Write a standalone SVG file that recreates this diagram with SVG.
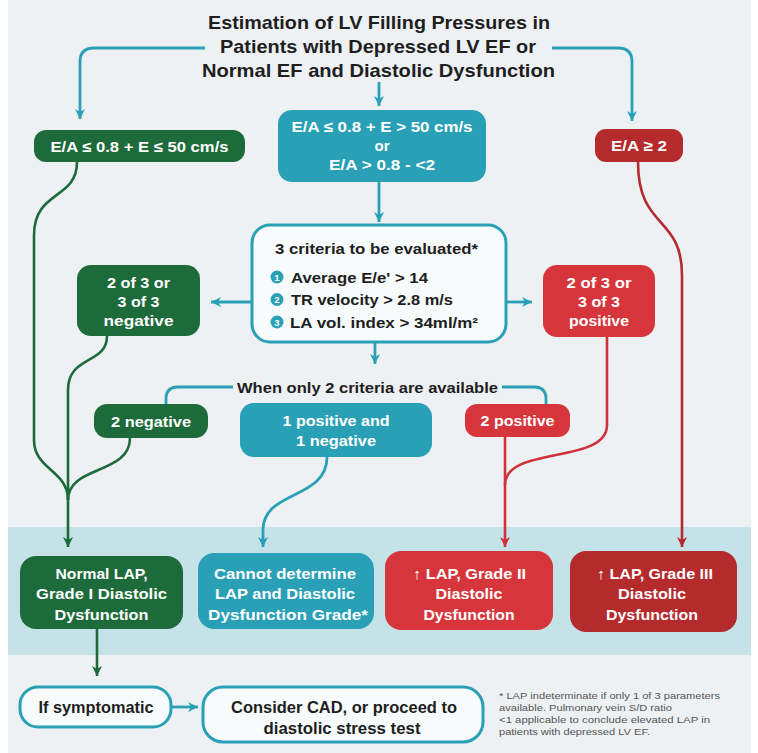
<svg xmlns="http://www.w3.org/2000/svg" width="758" height="753" viewBox="0 0 758 753">
<style>
text{font-family:"Liberation Sans",Arial,sans-serif;font-weight:bold}
.ttl{font-size:19px;fill:#1e1e1e;text-anchor:middle}
.w{fill:#fff;font-size:15px;text-anchor:middle}
.d{fill:#1e1e1e;font-size:15px}
.big{fill:#1e1e1e;font-size:17px;text-anchor:middle}
.fn{font-weight:normal;font-size:9.5px;fill:#555}
.g{fill:#1d6a3a}.t{fill:#2aa0b6}.r{fill:#d6363b}.dr{fill:#b42a2d}
.cg{fill:none;stroke:#1d6a3a;stroke-width:2.6}
.ct{fill:none;stroke:#2aa0b6;stroke-width:2.8}
.cr{fill:none;stroke:#cf323a;stroke-width:2.6}
.cdr{fill:none;stroke:#b42a2d;stroke-width:2.6}
.ob{fill:#f8fbfc;stroke:#2aa0b6;stroke-width:3}
</style>
<defs>
<marker id="ag" viewBox="0 0 12 12" refX="11" refY="6" markerWidth="12" markerHeight="12" markerUnits="userSpaceOnUse" orient="auto"><path d="M1,1 L11,6 L1,11 L4,6 Z" fill="#1d6a3a"/></marker>
<marker id="at" viewBox="0 0 12 12" refX="11" refY="6" markerWidth="12" markerHeight="12" markerUnits="userSpaceOnUse" orient="auto"><path d="M1,1 L11,6 L1,11 L4,6 Z" fill="#2aa0b6"/></marker>
<marker id="ar" viewBox="0 0 12 12" refX="11" refY="6" markerWidth="12" markerHeight="12" markerUnits="userSpaceOnUse" orient="auto"><path d="M1,1 L11,6 L1,11 L4,6 Z" fill="#cf323a"/></marker>
<marker id="adr" viewBox="0 0 12 12" refX="11" refY="6" markerWidth="12" markerHeight="12" markerUnits="userSpaceOnUse" orient="auto"><path d="M1,1 L11,6 L1,11 L4,6 Z" fill="#b42a2d"/></marker>
</defs>
<rect x="0" y="0" width="758" height="753" fill="#ffffff"/>
<rect x="8" y="0" width="743" height="753" fill="#edf1f4"/>
<rect x="8" y="527" width="743" height="128" fill="#c4e2e8"/>

<g id="title">
<text class="ttl" x="379" y="28.5" textLength="342" lengthAdjust="spacingAndGlyphs">Estimation of LV Filling Pressures in</text>
<text class="ttl" x="378" y="53" textLength="316" lengthAdjust="spacingAndGlyphs">Patients with Depressed LV EF or</text>
<text class="ttl" x="378.5" y="76.5" textLength="353" lengthAdjust="spacingAndGlyphs">Normal EF and Diastolic Dysfunction</text>
</g>

<g id="connectors">
<path class="ct" d="M205,48 L94,48 Q80,48 80,62 L80,119" marker-end="url(#at)"/>
<path class="ct" d="M552,48 L618,48 Q632,48 632,62 L632,121" marker-end="url(#at)"/>
<path class="ct" d="M379,82 L379,106" marker-end="url(#at)"/>
<path class="ct" d="M379,182 L379,222" marker-end="url(#at)"/>
<path class="ct" d="M252,302 L211,302" marker-end="url(#at)"/>
<path class="ct" d="M507,302 L532,302" marker-end="url(#at)"/>
<path class="ct" d="M375,342 L375,364" marker-end="url(#at)"/>
<path class="ct" d="M233,387 L178,387 Q166,387 166,399 L166,404"/>
<path class="ct" d="M502,387 L534,387 Q546,387 546,399 L546,404"/>
<path class="cg" d="M77,162 C77,200 34,190 34,235 L34,440 C34,470 68,470 68,500"/>
<path class="cg" d="M107,336 C107,365 68,355 68,390 L68,547" marker-end="url(#ag)"/>
<path class="cg" d="M130,438 C130,475 68,465 68,500"/>
<path class="ct" d="M327,457 C327,500 263,490 263,530 L263,547" marker-end="url(#at)"/>
<path class="cr" d="M607,337 L607,425 C607,465 505,445 505,485"/>
<path class="cr" d="M505,437 L505,547" marker-end="url(#ar)"/>
<path class="cdr" d="M638,162 C638,230 682,215 682,275 L682,547" marker-end="url(#adr)"/>
<path class="cg" d="M97,629 L97,676" marker-end="url(#ag)"/>
<path class="ct" d="M171,707 L198,707" marker-end="url(#at)"/>
</g>

<g id="n-ea-low">
<rect class="g" x="34" y="130" width="211" height="32" rx="12"/>
<text class="w" x="139.5" y="152" textLength="178" lengthAdjust="spacingAndGlyphs">E/A ≤ 0.8 + E ≤ 50 cm/s</text>
</g>
<g id="n-ea-mid">
<rect class="t" x="278" y="110" width="208" height="72" rx="14"/>
<text class="w" x="382" y="132" textLength="181" lengthAdjust="spacingAndGlyphs">E/A ≤ 0.8 + E &gt; 50 cm/s</text>
<text class="w" x="382" y="151">or</text>
<text class="w" x="382" y="170" textLength="106" lengthAdjust="spacingAndGlyphs">E/A &gt; 0.8 - &lt;2</text>
</g>
<g id="n-ea-high">
<rect class="dr" x="595" y="129" width="88" height="33" rx="11"/>
<text class="w" x="639" y="151" textLength="56" lengthAdjust="spacingAndGlyphs">E/A ≥ 2</text>
</g>

<g id="n-criteria">
<rect class="ob" x="252" y="225" width="254" height="117" rx="18"/>
<text class="d" x="376.5" y="254" text-anchor="middle" textLength="203" lengthAdjust="spacingAndGlyphs">3 criteria to be evaluated*</text>
<circle class="t" cx="277" cy="277" r="6.5"/>
<circle class="t" cx="277" cy="299.5" r="6.5"/>
<circle class="t" cx="277" cy="322" r="6.5"/>
<text x="277" y="280.5" fill="#fff" font-size="9.5" text-anchor="middle">1</text>
<text x="277" y="303" fill="#fff" font-size="9.5" text-anchor="middle">2</text>
<text x="277" y="325.5" fill="#fff" font-size="9.5" text-anchor="middle">3</text>
<text class="d" x="291" y="282.5" textLength="137" lengthAdjust="spacingAndGlyphs">Average E/e' &gt; 14</text>
<text class="d" x="291" y="305" textLength="162" lengthAdjust="spacingAndGlyphs">TR velocity &gt; 2.8 m/s</text>
<text class="d" x="290" y="327.5" textLength="188" lengthAdjust="spacingAndGlyphs">LA vol. index &gt; 34ml/m²</text>
</g>

<g id="n-neg3">
<rect class="g" x="77" y="265" width="123" height="71" rx="14"/>
<text class="w" x="138.5" y="288" textLength="63" lengthAdjust="spacingAndGlyphs">2 of 3 or</text>
<text class="w" x="138.5" y="307" textLength="42" lengthAdjust="spacingAndGlyphs">3 of 3</text>
<text class="w" x="138.5" y="326" textLength="70" lengthAdjust="spacingAndGlyphs">negative</text>
</g>
<g id="n-pos3">
<rect class="r" x="543" y="265" width="112" height="72" rx="14"/>
<text class="w" x="599" y="288" textLength="65" lengthAdjust="spacingAndGlyphs">2 of 3 or</text>
<text class="w" x="599" y="307" textLength="42" lengthAdjust="spacingAndGlyphs">3 of 3</text>
<text class="w" x="599" y="326" textLength="60" lengthAdjust="spacingAndGlyphs">positive</text>
</g>

<g id="n-only2">
<text class="d" x="367.5" y="392.5" text-anchor="middle" font-size="16" textLength="261" lengthAdjust="spacingAndGlyphs">When only 2 criteria are available</text>
</g>
<g id="n-2neg">
<rect class="g" x="94" y="404" width="114" height="34" rx="13"/>
<text class="w" x="151" y="426.5" textLength="80" lengthAdjust="spacingAndGlyphs">2 negative</text>
</g>
<g id="n-1pos1neg">
<rect class="t" x="240" y="403" width="192" height="54" rx="14"/>
<text class="w" x="336" y="426" textLength="107" lengthAdjust="spacingAndGlyphs">1 positive and</text>
<text class="w" x="336" y="446" textLength="80" lengthAdjust="spacingAndGlyphs">1 negative</text>
</g>
<g id="n-2pos">
<rect class="r" x="465" y="404" width="105" height="33" rx="12"/>
<text class="w" x="517.5" y="426" textLength="74" lengthAdjust="spacingAndGlyphs">2 positive</text>
</g>

<g id="n-normal">
<rect class="g" x="20" y="556" width="163" height="73" rx="16"/>
<text class="w" x="101.5" y="578.5" textLength="92" lengthAdjust="spacingAndGlyphs">Normal LAP,</text>
<text class="w" x="101.5" y="599" textLength="131" lengthAdjust="spacingAndGlyphs">Grade I Diastolic</text>
<text class="w" x="101.5" y="619.5" textLength="94" lengthAdjust="spacingAndGlyphs">Dysfunction</text>
</g>
<g id="n-cannot">
<rect class="t" x="198" y="553" width="176" height="76" rx="16"/>
<text class="w" x="285" y="578.5" textLength="142" lengthAdjust="spacingAndGlyphs">Cannot determine</text>
<text class="w" x="285" y="599" textLength="140" lengthAdjust="spacingAndGlyphs">LAP and Diastolic</text>
<text class="w" x="288" y="619.5" textLength="160" lengthAdjust="spacingAndGlyphs">Dysfunction Grade*</text>
</g>
<g id="n-grade2">
<rect class="r" x="385" y="551" width="168" height="79" rx="16"/>
<text class="w" x="469.5" y="578.5" textLength="113" lengthAdjust="spacingAndGlyphs">↑ LAP, Grade II</text>
<text class="w" x="469" y="599" textLength="67" lengthAdjust="spacingAndGlyphs">Diastolic</text>
<text class="w" x="469" y="619.5" textLength="91" lengthAdjust="spacingAndGlyphs">Dysfunction</text>
</g>
<g id="n-grade3">
<rect class="dr" x="570" y="551" width="167" height="81" rx="16"/>
<text class="w" x="655" y="578.5" textLength="116" lengthAdjust="spacingAndGlyphs">↑ LAP, Grade III</text>
<text class="w" x="652" y="599" textLength="68" lengthAdjust="spacingAndGlyphs">Diastolic</text>
<text class="w" x="652" y="619.5" textLength="92" lengthAdjust="spacingAndGlyphs">Dysfunction</text>
</g>

<g id="n-symptomatic">
<rect class="ob" x="20" y="687" width="151" height="40" rx="18" stroke-width="2.5"/>
<text class="big" x="96" y="713" textLength="115" lengthAdjust="spacingAndGlyphs">If symptomatic</text>
</g>
<g id="n-cad">
<rect class="ob" x="203" y="687" width="280" height="55" rx="20" stroke-width="2.5"/>
<text class="big" x="344" y="712.5" textLength="226" lengthAdjust="spacingAndGlyphs">Consider CAD, or proceed to</text>
<text class="big" x="342" y="733.5" textLength="157" lengthAdjust="spacingAndGlyphs">diastolic stress test</text>
</g>

<g id="footnote">
<text class="fn" x="499" y="698.5" textLength="221" lengthAdjust="spacingAndGlyphs">* LAP indeterminate if only 1 of 3 parameters</text>
<text class="fn" x="499" y="710.5" textLength="173" lengthAdjust="spacingAndGlyphs">available. Pulmonary vein S/D ratio</text>
<text class="fn" x="499" y="723" textLength="211" lengthAdjust="spacingAndGlyphs">&lt;1 applicable to conclude elevated LAP in</text>
<text class="fn" x="499" y="735" textLength="151" lengthAdjust="spacingAndGlyphs">patients with depressed LV EF.</text>
</g>
</svg>
